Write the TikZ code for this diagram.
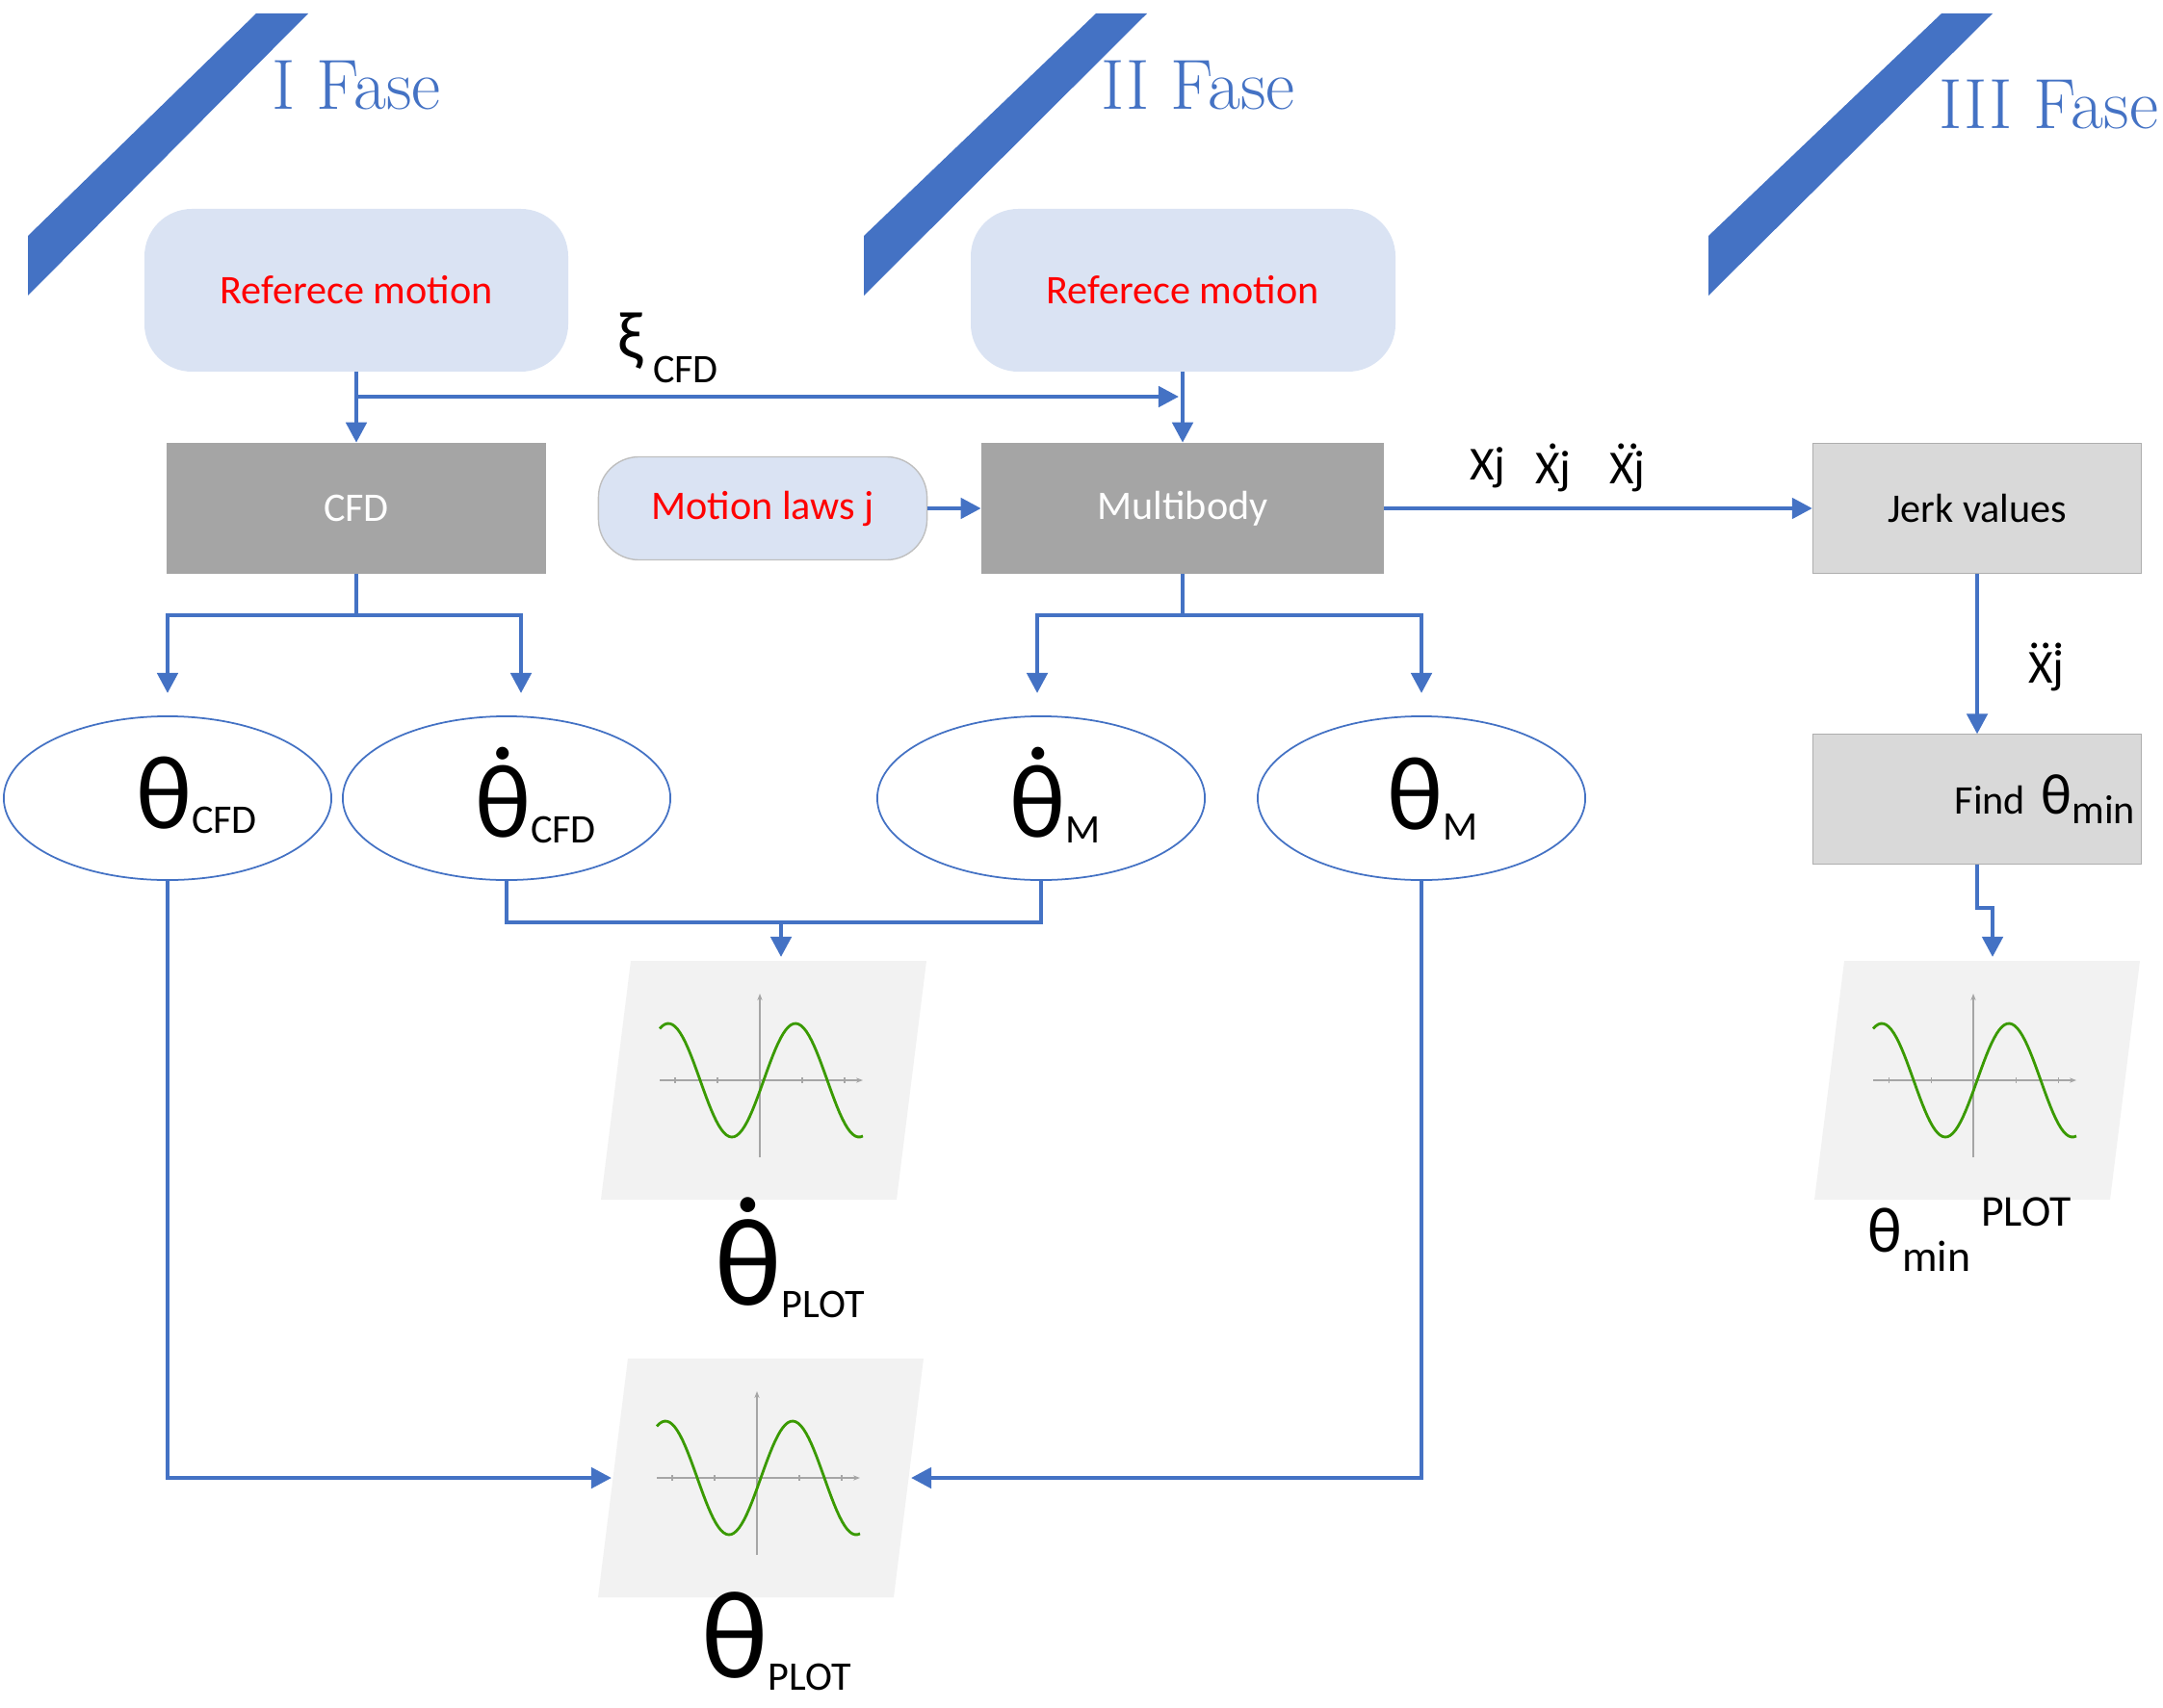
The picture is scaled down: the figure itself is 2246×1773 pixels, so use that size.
\documentclass[tikz,border=0pt]{standalone}
\usepackage{fontspec}
\setmainfont{Carlito}
\newfontfamily\lmr{Latin Modern Roman}
\usetikzlibrary{arrows.meta,shapes.geometric}
\definecolor{bl}{HTML}{4472C4}
\definecolor{lb}{HTML}{DAE3F3}
\definecolor{dg}{HTML}{A5A5A5}
\definecolor{lg}{HTML}{D9D9D9}
\definecolor{pg}{HTML}{F2F2F2}
\definecolor{gr}{HTML}{3A9A00}
\newcommand\dotover[2]{\leavevmode\setbox0\hbox{#2}\rlap{\hbox to\wd0{\hss\raisebox{\ht0}{\raisebox{0.06em}{#1}}\hss}}#2}
\newcommand\fs[1]{\fontsize{#1}{#1}\selectfont}
\begin{document}
\begin{tikzpicture}[x=0.01cm,y=-0.01cm,
  con/.style={bl,line width=1.3pt,-{Triangle[length=6pt,width=6pt]}},
  ln/.style={bl,line width=1.3pt},
  rbox/.style={fill=lb,rounded corners=14pt,text=red,font=\fs{12}},
  gbox/.style={fill=dg,text=white,font=\fs{12}},
  jbox/.style={fill=lg,draw=lg!80!black,line width=0.3pt,font=\fs{12}},
  ell/.style={ellipse,draw=bl,line width=0.5pt,fill=white,minimum width=3.4cm,minimum height=1.7cm},
  fase/.style={bl,font=\lmr\fs{21}},
  band/.style={fill=bl}]
\useasboundingbox (0,0) rectangle (2246,1773);
% bands
\fill[band] (266,14)--(320,14)--(29,307)--(29,245)--cycle;
\fill[band] (1138,14)--(1191,14)--(897,307)--(897,245)--cycle;
\fill[band] (2016,14)--(2069,14)--(1774,307)--(1774,245)--cycle;
\node[fase] (f1) at (370,89) {I Fase};
\node[fase] (f2) at (1244,89) {II Fase};
\node[fase] (f3) at (2127,109) {III Fase};
% boxes
\path[rbox] (150,217) rectangle (590,386);
\node[text=red,font=\fs{12}] (r1) at (370,301) {Referece motion};
\path[rbox] (1008,217) rectangle (1449,386);
\node[text=red,font=\fs{12}] (r2) at (1228,301) {Referece motion};
\node[gbox,minimum width=3.93cm,minimum height=1.35cm,inner sep=0] (cfd) at (370,528) {CFD};
\node[fill=lb,draw=gray!50,line width=0.4pt,rounded corners=12pt,minimum width=3.41cm,minimum height=1.07cm,text=red,font=\fs{12},inner sep=0] (ml) at (792,528) {Motion laws j};
\node[gbox,minimum width=4.17cm,minimum height=1.35cm,inner sep=0] (mb) at (1228,528) {Multibody};
\node[jbox,minimum width=3.41cm,minimum height=1.35cm,inner sep=0] (jv) at (2053,528) {Jerk values};
\node[jbox,minimum width=3.41cm,minimum height=1.34cm,inner sep=0] (fm) at (2053,830) {\hspace{40pt}Find\, {\fs{17}θ}\raisebox{-0.25em}{min}};
% ellipses
\node[ell] (e1) at (174,829) {};
\node[ell] (e2) at (526,829) {};
\node[ell] (e3) at (1081,829) {};
\node[ell] (e4) at (1476,829) {};
\node[font=\fs{31}] (t1) at (204,826) {θ\raisebox{-0.05em}{\fs{12}CFD}};
\node[font=\fs{31}] (t2) at (556,826) {\dotover{.}{θ}\raisebox{-0.05em}{\fs{12}CFD}};
\node[font=\fs{31}] (t3) at (1096,826) {\dotover{.}{θ}\raisebox{-0.05em}{\fs{12}M}};
\node[font=\fs{31}] (t4) at (1488,830) {θ\raisebox{-0.1em}{\fs{12}M}};
% plots
\foreach \n/\cx/\cy in {p1/793/1122,p2/790/1535,p3/2053/1122}{
  \begin{scope}[shift={(\cx,\cy)}]
  \fill[pg] (-138,-124)--(169,-124)--(138,124)--(-169,124)--cycle;
  \coordinate (\n) at (0,0);
  \draw[gray!70,line width=0.4pt,-{Stealth[length=2pt]}] (-108,0)--(103,0);
  \draw[gray!70,line width=0.4pt,-{Stealth[length=2pt]}] (-4,80)--(-4,-90);
  \foreach \t in {-88,-44,44,88} \draw[gray!70,line width=0.3pt] (\t-4,-3)--(\t-4,3);
  \draw[gr,line width=0.8pt,domain=-108:103,samples=80] plot (\x,{-59*sin(\x/66*180)});
  \end{scope}}
\coordinate (p1in) at (811,994);
\coordinate (p3in) at (2069,994);
% labels
\node[font=\fs{37},anchor=base] (lp1) at (820,1355) {\dotover{.}{θ}\raisebox{-0.1em}{\fs{12}PLOT}};
\node[font=\fs{37},anchor=base] (lp2) at (806,1742) {θ\raisebox{-0.1em}{\fs{12}PLOT}};
\node[font=\fs{19},anchor=base] (lp3) at (2045,1300) {θ\raisebox{-0.3em}{\fs{13}min}\,\raisebox{0.4em}{\fs{13}PLOT}};
\node[font=\fs{20},anchor=base] (xi) at (655,373) {ξ};
\node[font=\fs{12},anchor=base] (xis) at (712,397) {CFD};
\node[font=\fs{14}] (x1) at (1545,486) {Xj};
\node[font=\fs{14}] (x2) at (1613,486) {\dotover{.}{Xj}};
\node[font=\fs{14}] (x3) at (1690,486) {\dotover{..}{Xj}};
\node[font=\fs{14}] (x4) at (2125,693) {\dotover{...}{Xj}};
% connectors
\coordinate (j1) at (370,412);
\coordinate (j1e) at (1224,412);
\draw[con] (370,386) -- (cfd.north);
\draw[con] (j1) -- (j1e);
\draw[con] (1228,386) -- (mb.north);
\draw[con] (ml.east) -- (mb.west);
\draw[con] (mb.east) -- (jv.west);
\draw[con] (jv.south) -- (fm.north);
\draw[con] (fm.south) -- (2053,943) -- (2069,943) -- (p3in);
\draw[ln] (cfd.south) -- (370,639);
\draw[con] (370,639) -- (541,639) -- (541,720);
\draw[con] (370,639) -- (174,639) -- (174,720);
\draw[ln] (mb.south) -- (1228,639);
\draw[con] (1228,639) -- (1077,639) -- (1077,720);
\draw[con] (1228,639) -- (1476,639) -- (1476,720);
\draw[ln] (e2.south) -- (526,958) -- (1081,958) -- (e3.south);
\draw[con] (811,958) -- (p1in);
\draw[con] (e1.south) -- (174,1535) -- (635,1535);
\draw[con] (e4.south) -- (1476,1535) -- (946,1535);
\end{tikzpicture}
\end{document}
